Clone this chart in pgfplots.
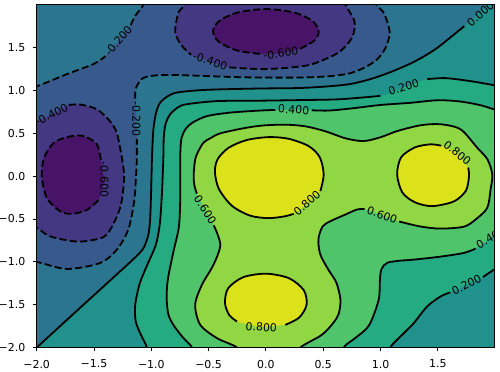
\documentclass[border=0pt]{standalone}
\usepackage{fontspec}
\setmainfont{DejaVu Sans}
\usepackage{pgfplots}
\pgfplotsset{compat=1.18}
\definecolor{c0}{HTML}{471467}
\definecolor{c1}{HTML}{453882}
\definecolor{c2}{HTML}{38598C}
\definecolor{c3}{HTML}{2B758E}
\definecolor{c4}{HTML}{21918C}
\definecolor{c5}{HTML}{25AB82}
\definecolor{c6}{HTML}{4FC46A}
\definecolor{c7}{HTML}{90D743}
\definecolor{c8}{HTML}{DBE21A}
\pgfplotsset{
  cl/.style={draw=black, line width=1.35pt, smooth, mark=none, fill=none},
  cld/.style={cl, dash pattern=on 5.4pt off 2.4pt},
  fl/.style={draw=none, smooth, mark=none},
}
\tikzset{lab/.style={font=\fontsize{8.2}{9.8}\selectfont, inner sep=0pt, text=black}}
\begin{document}
\begin{tikzpicture}
\begin{axis}[name=ax, scale only axis, width=343pt, height=257.2pt,
  xmin=-2, xmax=1.99, ymin=-2, ymax=2.0, axis on top,
  xtick={-2,-1.5,-1,-0.5,0,0.5,1,1.5},
  xticklabels={−2.0,−1.5,−1.0,−0.5,0.0,0.5,1.0,1.5},
  ytick={-2,-1.5,-1,-0.5,0,0.5,1,1.5},
  yticklabels={−2.0,−1.5,−1.0,−0.5,0.0,0.5,1.0,1.5},
  tick align=outside, tick pos=left, major tick length=2.85pt,
  tick style={black, line width=0.65pt},
  axis line style={line width=0.65pt},
  tick label style={font=\fontsize{8.2}{9.8}\selectfont, inner sep=0pt},
  xticklabel shift=6.2pt, yticklabel shift=5.5pt,
]
% base
\addplot[draw=none, fill=c5] coordinates {(-2.5,-2.5) (2.5,-2.5) (2.5,2.5) (-2.5,2.5)} -- cycle;
% low side of 0.2 line A
\addplot[fl, fill=c4] coordinates {(-1.02,-2.25) (-1.039,-2.0) (-1.08,-1.88) (-1.135,-1.70) (-1.14,-1.50) (-1.10,-1.25) (-1.03,-1.02) (-0.96,-0.80) (-0.925,-0.55) (-0.907,-0.20) (-0.895,0.20) (-0.891,0.45) (-0.875,0.61) (-0.835,0.722) (-0.765,0.804) (-0.689,0.839) (-0.427,0.875) (-0.049,0.880) (0.300,0.887) (0.650,0.897) (0.999,0.936) (1.202,1.034) (1.407,1.131) (1.567,1.143) (1.785,1.108) (1.989,1.061) (2.2,1.01) (2.4,0.96)} -- (axis cs:2.4,2.4) -- (axis cs:-2.4,2.4) -- (axis cs:-2.4,-2.25) -- cycle;
% low side of 0 line
\addplot[fl, fill=c3] coordinates {(-2.2,-2.25) (-2.0,-2.0) (-1.534,-1.43) (-1.30,-1.145) (-1.15,-0.96) (-1.068,-0.84) (-1.025,-0.68) (-1.010,-0.50) (-1.003,-0.25) (-0.998,0.0) (-0.993,0.25) (-0.981,0.55) (-0.957,0.745) (-0.922,0.858) (-0.852,0.935) (-0.776,0.975) (-0.60,1.000) (-0.40,1.012) (-0.05,1.022) (0.30,1.028) (0.56,1.049) (0.74,1.075) (0.91,1.131) (1.086,1.213) (1.287,1.330) (1.48,1.482) (1.70,1.716) (1.88,1.93) (2.1,2.16) (2.3,2.4)} -- (axis cs:-2.3,2.4) -- cycle;
% low side of -0.2 curve B
\addplot[fl, fill=c2] coordinates {(-2.2,-0.98) (-2.0,-1.001) (-1.737,-1.083) (-1.446,-1.013) (-1.300,-0.857) (-1.20,-0.62) (-1.150,-0.30) (-1.133,0.0) (-1.126,0.215) (-1.126,0.435) (-1.131,0.669) (-1.14,0.903) (-1.135,1.02) (-1.07,1.145) (-0.893,1.18) (-0.573,1.17) (-0.311,1.157) (-0.049,1.15) (0.300,1.15) (0.562,1.166) (0.737,1.201) (0.868,1.271) (0.973,1.365) (1.045,1.50) (1.080,1.681) (1.03,1.90) (0.963,2.0) (0.90,2.2)} -- (axis cs:-2.2,2.2) -- cycle;
% top-left corner above -0.2 curve A
\addplot[fl, fill=c3] coordinates {(-2.2,0.95) (-2.0,1.046) (-1.737,1.189) (-1.50,1.31) (-1.40,1.40) (-1.287,1.579) (-1.18,1.76) (-1.14,1.87) (-1.068,2.0) (-1.02,2.2)} -- (axis cs:-2.2,2.2) -- cycle;
% -0.4 regions
\addplot[fl, fill=c1] coordinates {(-2.2,0.50) (-1.997,0.64) (-1.87,0.72) (-1.72,0.83) (-1.62,0.835) (-1.475,0.78) (-1.36,0.64) (-1.30,0.50) (-1.257,0.215) (-1.237,-0.02) (-1.272,-0.37) (-1.388,-0.682) (-1.53,-0.75) (-1.68,-0.76) (-1.883,-0.702) (-1.999,-0.604) (-2.2,-0.47)} -- cycle;
\addplot[fl, fill=c1] coordinates {(-0.68,2.2) (-0.705,2.0) (-0.762,1.911) (-0.791,1.677) (-0.733,1.520) (-0.651,1.414) (-0.486,1.341) (-0.32,1.269) (-0.005,1.248) (0.344,1.287) (0.519,1.365) (0.650,1.458) (0.754,1.622) (0.772,1.809) (0.694,2.0) (0.65,2.2)} -- cycle;
% -0.6 cores
\addplot[fl, fill=c0] coordinates {(-1.44,0.19) (-1.475,0.371) (-1.593,0.468) (-1.72,0.46) (-1.85,0.39) (-1.935,0.215) (-1.955,0.0) (-1.912,-0.253) (-1.796,-0.409) (-1.694,-0.440) (-1.562,-0.395) (-1.46,-0.28) (-1.41,-0.04)} -- cycle;
\addplot[fl, fill=c0] coordinates {(0.30,1.486) (0.42,1.578) (0.461,1.686) (0.41,1.806) (0.25,1.907) (0.0,1.949) (-0.25,1.907) (-0.41,1.806) (-0.461,1.686) (-0.41,1.566) (-0.25,1.465) (-0.04,1.424) (0.13,1.432)} -- cycle;
% high side of 0.4 line A
\addplot[fl, fill=c6] coordinates {(-0.62,-2.2) (-0.645,-2.0) (-0.719,-1.890) (-0.80,-1.75) (-0.850,-1.617) (-0.866,-1.42) (-0.855,-1.20) (-0.806,-0.877) (-0.760,-0.60) (-0.748,-0.30) (-0.748,0.0) (-0.746,0.30) (-0.735,0.45) (-0.700,0.55) (-0.640,0.625) (-0.514,0.700) (-0.311,0.741) (-0.049,0.765) (0.082,0.772) (0.242,0.775) (0.40,0.768) (0.55,0.765) (0.75,0.790) (1.0,0.83) (1.261,0.855) (1.497,0.885) (1.698,0.870) (1.872,0.827) (1.989,0.780) (2.2,0.70) (2.4,0.62)} -- (axis cs:2.4,-2.4) -- (axis cs:-0.62,-2.4) -- cycle;
% low side of 0.4 line B
\addplot[fl, fill=c5] coordinates {(0.66,-2.2) (0.679,-2.0) (0.781,-1.887) (0.90,-1.74) (0.984,-1.44) (0.995,-1.20) (1.01,-1.08) (1.06,-1.01) (1.174,-0.986) (1.290,-0.974) (1.523,-0.939) (1.727,-0.896) (1.83,-0.845) (1.962,-0.72) (2.2,-0.50) (2.4,-0.32)} -- (axis cs:2.4,-2.4) -- (axis cs:0.66,-2.4) -- cycle;
% low side of 0.2 line B
\addplot[fl, fill=c4] coordinates {(1.06,-2.2) (1.086,-2.0) (1.203,-1.832) (1.290,-1.715) (1.407,-1.520) (1.523,-1.404) (1.608,-1.356) (1.750,-1.267) (1.893,-1.178) (1.989,-1.091) (2.2,-0.9) (2.4,-0.72)} -- (axis cs:2.4,-2.4) -- (axis cs:1.06,-2.4) -- cycle;
% 0.6 region
\addplot[fl, fill=c7] coordinates {(-0.20,-2.15) (-0.252,-2.0) (-0.427,-1.890) (-0.573,-1.734) (-0.617,-1.500) (-0.558,-1.267) (-0.457,-1.033) (-0.398,-0.799) (-0.455,-0.574) (-0.529,-0.390) (-0.603,-0.205) (-0.625,-0.10) (-0.630,0.020) (-0.617,0.195) (-0.590,0.289) (-0.544,0.391) (-0.486,0.441) (-0.398,0.499) (-0.195,0.558) (-0.031,0.590) (0.169,0.600) (0.344,0.581) (0.519,0.523) (0.694,0.441) (0.851,0.409) (0.999,0.453) (1.147,0.526) (1.349,0.593) (1.523,0.605) (1.698,0.546) (1.843,0.332) (1.933,0.195) (1.975,0.020) (1.960,-0.156) (1.931,-0.370) (1.829,-0.506) (1.727,-0.590) (1.523,-0.612) (1.349,-0.588) (1.162,-0.529) (1.014,-0.456) (0.862,-0.384) (0.794,-0.390) (0.694,-0.448) (0.562,-0.526) (0.493,-0.590) (0.458,-0.740) (0.475,-0.916) (0.545,-1.091) (0.615,-1.243) (0.650,-1.442) (0.632,-1.617) (0.562,-1.754) (0.475,-1.863) (0.300,-2.0) (0.25,-2.15)} -- (axis cs:0.25,-2.4) -- (axis cs:-0.20,-2.4) -- cycle;
% 0.8 cores
\addplot[fl, fill=c8] coordinates {(0.475,-0.175) (0.504,0.019) (0.470,0.22) (0.373,0.350) (0.20,0.435) (0.024,0.455) (-0.17,0.42) (-0.326,0.33) (-0.420,0.20) (-0.445,0.05) (-0.41,-0.15) (-0.297,-0.345) (-0.14,-0.46) (0.02,-0.49) (0.16,-0.47) (0.242,-0.440) (0.36,-0.32)} -- cycle;
\addplot[fl, fill=c8] coordinates {(1.765,0.10) (1.772,0.0) (1.745,-0.17) (1.64,-0.295) (1.45,-0.350) (1.30,-0.305) (1.19,-0.19) (1.145,0.02) (1.18,0.22) (1.30,0.335) (1.436,0.371) (1.53,0.355) (1.67,0.27)} -- cycle;
\addplot[fl, fill=c8] coordinates {(0.169,-1.735) (0.29,-1.65) (0.355,-1.50) (0.33,-1.33) (0.20,-1.19) (0.0,-1.138) (-0.20,-1.18) (-0.33,-1.31) (-0.357,-1.48) (-0.32,-1.62) (-0.252,-1.696) (-0.04,-1.76)} -- cycle;

% ---------- contour lines ----------
% 0.0
\addplot[cl] coordinates {(-2.2,-2.25) (-2.0,-2.0) (-1.534,-1.43) (-1.30,-1.145) (-1.15,-0.96) (-1.068,-0.84) (-1.025,-0.68) (-1.010,-0.50) (-1.003,-0.25) (-0.998,0.0) (-0.993,0.25) (-0.981,0.55) (-0.957,0.745) (-0.922,0.858) (-0.852,0.935) (-0.776,0.975) (-0.60,1.000) (-0.40,1.012) (-0.05,1.022) (0.30,1.028) (0.56,1.049) (0.74,1.075) (0.91,1.131) (1.086,1.213) (1.287,1.330) (1.48,1.482) (1.70,1.716) (1.73,1.75)};
% 0.2 A
\addplot[cl] coordinates {(-1.02,-2.25) (-1.039,-2.0) (-1.08,-1.88) (-1.135,-1.70) (-1.14,-1.50) (-1.10,-1.25) (-1.03,-1.02) (-0.96,-0.80) (-0.925,-0.55) (-0.907,-0.20) (-0.895,0.20) (-0.891,0.45) (-0.875,0.61) (-0.835,0.722) (-0.765,0.804) (-0.689,0.839) (-0.427,0.875) (-0.049,0.880) (0.300,0.887) (0.650,0.897) (0.999,0.936)};
\addplot[cl] coordinates {(1.407,1.131) (1.567,1.143) (1.785,1.108) (1.989,1.061) (2.2,1.01) (2.4,0.96)};
% 0.2 B
\addplot[cl] coordinates {(1.06,-2.2) (1.086,-2.0) (1.203,-1.832) (1.290,-1.715) (1.407,-1.520) (1.523,-1.404) (1.608,-1.356)};
\addplot[cl] coordinates {(1.893,-1.178) (1.989,-1.091) (2.2,-0.9) (2.4,-0.72)};
% 0.4 A
\addplot[cl] coordinates {(-0.62,-2.2) (-0.645,-2.0) (-0.719,-1.890) (-0.80,-1.75) (-0.850,-1.617) (-0.866,-1.42) (-0.855,-1.20) (-0.806,-0.877) (-0.760,-0.60) (-0.748,-0.30) (-0.748,0.0) (-0.746,0.30) (-0.735,0.45) (-0.700,0.55) (-0.640,0.625) (-0.514,0.700) (-0.311,0.741) (-0.049,0.765) (0.082,0.772)};
\addplot[cl] coordinates {(0.40,0.768) (0.55,0.765) (0.75,0.790) (1.0,0.83) (1.261,0.855) (1.497,0.885) (1.698,0.870) (1.872,0.827) (1.989,0.780) (2.2,0.70) (2.4,0.62)};
% 0.4 B
\addplot[cl] coordinates {(0.66,-2.2) (0.679,-2.0) (0.781,-1.887) (0.90,-1.74) (0.984,-1.44) (0.995,-1.20) (1.01,-1.08) (1.06,-1.01) (1.174,-0.986) (1.290,-0.974) (1.523,-0.939) (1.727,-0.896) (1.83,-0.845)};
% 0.6
\addplot[cl] coordinates {(-0.20,-2.15) (-0.252,-2.0) (-0.427,-1.890) (-0.573,-1.734) (-0.617,-1.500) (-0.558,-1.267) (-0.457,-1.033) (-0.398,-0.799) (-0.455,-0.574)};
\addplot[cl] coordinates {(-0.603,-0.205) (-0.625,-0.10) (-0.630,0.020) (-0.617,0.195) (-0.590,0.289) (-0.544,0.391) (-0.486,0.441) (-0.398,0.499) (-0.195,0.558) (-0.031,0.590) (0.169,0.600) (0.344,0.581) (0.519,0.523) (0.694,0.441) (0.851,0.409) (0.999,0.453) (1.147,0.526) (1.349,0.593) (1.523,0.605) (1.698,0.546) (1.843,0.332) (1.933,0.195) (1.975,0.020) (1.960,-0.156) (1.931,-0.370) (1.829,-0.506) (1.727,-0.590) (1.523,-0.612) (1.349,-0.588) (1.162,-0.529)};
\addplot[cl] coordinates {(0.862,-0.384) (0.794,-0.390) (0.694,-0.448) (0.562,-0.526) (0.493,-0.590) (0.458,-0.740) (0.475,-0.916) (0.545,-1.091) (0.615,-1.243) (0.650,-1.442) (0.632,-1.617) (0.562,-1.754) (0.475,-1.863) (0.300,-2.0) (0.25,-2.15)};
% 0.8
\addplot[cl] coordinates {(0.475,-0.175) (0.504,0.019) (0.470,0.22) (0.373,0.350) (0.20,0.435) (0.024,0.455) (-0.17,0.42) (-0.326,0.33) (-0.420,0.20) (-0.445,0.05) (-0.41,-0.15) (-0.297,-0.345) (-0.14,-0.46) (0.02,-0.49) (0.16,-0.47) (0.242,-0.440)};
\addplot[cl] coordinates {(1.765,0.10) (1.772,0.0) (1.745,-0.17) (1.64,-0.295) (1.45,-0.350) (1.30,-0.305) (1.19,-0.19) (1.145,0.02) (1.18,0.22) (1.30,0.335) (1.436,0.371) (1.53,0.355)};
\addplot[cl] coordinates {(0.169,-1.735) (0.29,-1.65) (0.355,-1.50) (0.33,-1.33) (0.20,-1.19) (0.0,-1.138) (-0.20,-1.18) (-0.33,-1.31) (-0.357,-1.48) (-0.32,-1.62) (-0.252,-1.696)};
% -0.2 A
\addplot[cld] coordinates {(-2.2,0.95) (-2.0,1.046) (-1.737,1.189) (-1.50,1.31) (-1.40,1.40)};
\addplot[cld] coordinates {(-1.18,1.76) (-1.14,1.87) (-1.068,2.0) (-1.02,2.2)};
% -0.2 B
\addplot[cld] coordinates {(-2.2,-0.98) (-2.0,-1.001) (-1.737,-1.083) (-1.446,-1.013) (-1.300,-0.857) (-1.20,-0.62) (-1.150,-0.30) (-1.133,0.0) (-1.126,0.215) (-1.126,0.435)};
\addplot[cld] coordinates {(-1.14,0.903) (-1.135,1.02) (-1.07,1.145) (-0.893,1.18) (-0.573,1.17) (-0.311,1.157) (-0.049,1.15) (0.300,1.15) (0.562,1.166) (0.737,1.201) (0.868,1.271) (0.973,1.365) (1.045,1.50) (1.080,1.681) (1.03,1.90) (0.963,2.0) (0.90,2.2)};
% -0.4
\addplot[cld] coordinates {(-1.72,0.83) (-1.62,0.835) (-1.475,0.78) (-1.36,0.64) (-1.30,0.50) (-1.257,0.215) (-1.237,-0.02) (-1.272,-0.37) (-1.388,-0.682) (-1.53,-0.75) (-1.68,-0.76) (-1.883,-0.702) (-1.999,-0.604) (-2.2,-0.47)};
\addplot[cld] coordinates {(-0.68,2.2) (-0.705,2.0) (-0.762,1.911) (-0.791,1.677) (-0.733,1.520) (-0.651,1.414)};
\addplot[cld] coordinates {(-0.32,1.269) (-0.005,1.248) (0.344,1.287) (0.519,1.365) (0.650,1.458) (0.754,1.622) (0.772,1.809) (0.694,2.0) (0.65,2.2)};
% -0.6
\addplot[cld] coordinates {(-1.44,0.19) (-1.475,0.371) (-1.593,0.468) (-1.72,0.46) (-1.85,0.39) (-1.935,0.215) (-1.955,0.0) (-1.912,-0.253) (-1.796,-0.409) (-1.694,-0.440) (-1.562,-0.395) (-1.46,-0.28)};
\addplot[cld] coordinates {(0.30,1.486) (0.42,1.578) (0.461,1.686) (0.41,1.806) (0.25,1.907) (0.0,1.949) (-0.25,1.907) (-0.41,1.806) (-0.461,1.686) (-0.41,1.566) (-0.25,1.465) (-0.04,1.424)};

% ---------- labels ----------
\begin{scope}
\clip (axis cs:-2,-2) rectangle (axis cs:1.99,2.0);
\node[lab, rotate=50] at (axis cs:-1.287,1.579) {-0.200};
\node[lab, rotate=27] at (axis cs:-1.87,0.72) {-0.400};
\node[lab, rotate=-90] at (axis cs:-1.131,0.669) {-0.200};
\node[lab, rotate=-90] at (axis cs:-1.41,-0.04) {-0.600};
\node[lab, rotate=-18] at (axis cs:-0.486,1.341) {-0.400};
\node[lab, rotate=8] at (axis cs:0.13,1.432) {-0.600};
\node[lab, rotate=40] at (axis cs:1.872,1.891) {0.000};
\node[lab, rotate=17] at (axis cs:1.202,1.034) {0.200};
\node[lab, rotate=-3] at (axis cs:0.242,0.775) {0.400};
\node[lab, rotate=-57] at (axis cs:-0.529,-0.390) {0.600};
\node[lab, rotate=41] at (axis cs:0.359,-0.311) {0.800};
\node[lab, rotate=-38] at (axis cs:1.67,0.27) {0.800};
\node[lab, rotate=-20] at (axis cs:1.014,-0.456) {0.600};
\node[lab, rotate=30] at (axis cs:1.962,-0.72) {0.400};
\node[lab, rotate=27] at (axis cs:1.750,-1.267) {0.200};
\node[lab, rotate=-4] at (axis cs:-0.04,-1.762) {0.800};
\end{scope}
\end{axis}
\pgfresetboundingbox
\path ([xshift=-27.5pt,yshift=-18.2pt]ax.south west) rectangle ([xshift=4.5pt,yshift=3.5pt]ax.north east);
\end{tikzpicture}
\end{document}
